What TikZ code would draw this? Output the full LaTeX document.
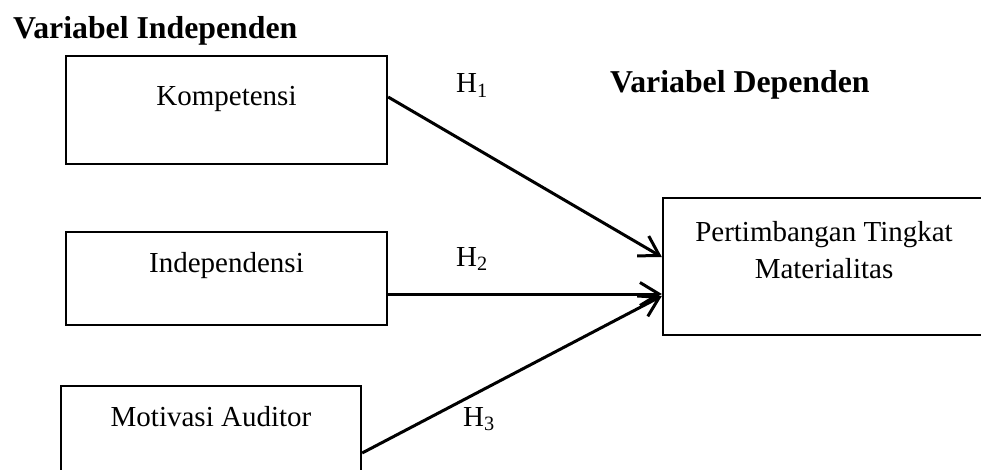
\documentclass[tikz,border=0pt]{standalone}
\usepackage{fontspec}
\setmainfont{Liberation Serif}
\usetikzlibrary{arrows.meta}
\begin{document}
\begin{tikzpicture}[x=1pt,y=-1pt,
  box/.style={draw,line width=2.3pt,inner sep=0pt},
  txt/.style={inner sep=0pt,anchor=base,font=\fontsize{29}{37}\selectfont},
  ttl/.style={inner sep=0pt,anchor=base west,font=\fontsize{31.8}{38}\selectfont\bfseries},
  hyp/.style={inner sep=0pt,anchor=base west,font=\fontsize{29}{37}\selectfont},
  conn/.style={line width=3pt,-{Straight Barb[length=19pt,width=23pt,line width=3pt]}}]
\useasboundingbox (0,0) rectangle (981,470);
\clip (0,0) rectangle (981,470);
% titles
\node[ttl] (t1) at (13,39) {Variabel Independen};
\node[ttl] (t2) at (610,93) {Variabel Dependen};
% boxes
\node[box,minimum width=321pt,minimum height=108pt] (k) at (226.5,110) {};
\node[box,minimum width=321pt,minimum height=93pt] (i) at (226.5,278.5) {};
\node[box,minimum width=300pt,minimum height=114pt] (m) at (211,443) {};
\node[box,minimum width=322pt,minimum height=137pt] (d) at (824,266.5) {};
% texts
\node[txt] (kt) at (226.5,106) {Kompetensi};
\node[txt] (it) at (226.5,272) {Independensi};
\node[txt] (mt) at (211,426) {Motivasi Auditor};
\node[txt] (dt1) at (824,241) {Pertimbangan Tingkat};
\node[txt] (dt2) at (824,278) {Materialitas};
% hypotheses
\node[hyp] (h1) at (456,93) {H\textsubscript{1}};
\node[hyp] (h2) at (456,266) {H\textsubscript{2}};
\node[hyp] (h3) at (463,426) {H\textsubscript{3}};
% connectors
\draw[conn] ([yshift=13pt]k.east) -- ([yshift=9.5pt]d.west);
\draw[conn] ([yshift=-15.5pt]i.east) -- ([yshift=-27.5pt]d.west);
\draw[conn] ([yshift=-10pt]m.east) -- ([yshift=-29.5pt]d.west);
\end{tikzpicture}
\end{document}
